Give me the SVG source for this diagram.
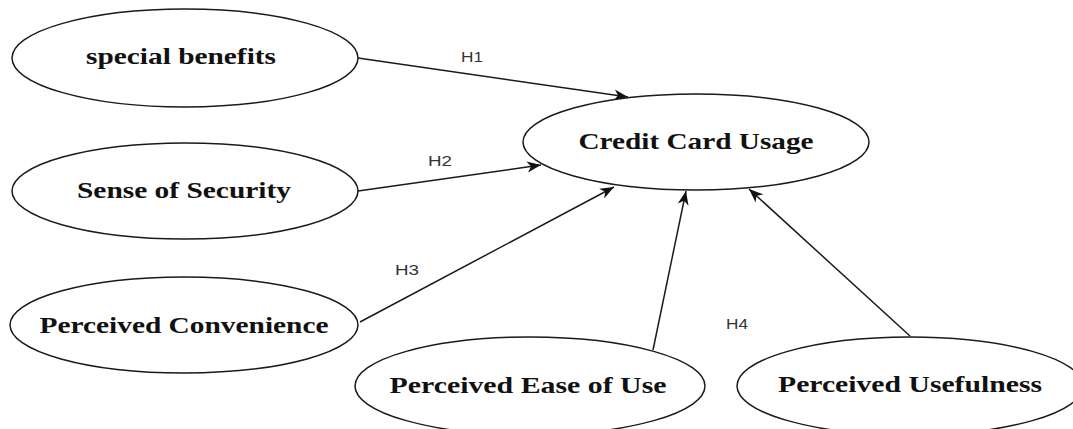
<svg xmlns="http://www.w3.org/2000/svg" width="1073" height="429" viewBox="0 0 1073 429">
  <style>
    .node ellipse { fill: #ffffff; stroke: #1a1a1a; stroke-width: 1.5; }
    .node text { font-family: "Liberation Serif", "Times New Roman", serif; font-weight: bold; font-size: 23px; fill: #111111; text-anchor: middle; }
    .edges line { stroke: #1a1a1a; stroke-width: 1.5; marker-end: url(#arrow); }
    .label { font-family: "Liberation Sans", Arial, sans-serif; font-size: 14.5px; fill: #333333; text-anchor: middle; }
  </style>
  <defs>
    <marker id="arrow" markerUnits="userSpaceOnUse" markerWidth="15" markerHeight="12" viewBox="0 0 15 12" refX="14" refY="6" orient="auto">
      <path d="M0,0.5 L14,6 L0,11.5 L4,6 Z" fill="#111111"/>
    </marker>
  </defs>
  <rect width="1073" height="429" fill="#ffffff"/>

  <!-- connectors -->
  <g id="edges" class="edges">
    <line x1="358" y1="58" x2="628" y2="97"/>
    <line x1="358" y1="191" x2="541" y2="165"/>
    <line x1="360" y1="322" x2="614" y2="187"/>
    <line x1="653" y1="350" x2="686" y2="191"/>
    <line x1="910" y1="336" x2="749" y2="189"/>
  </g>

  <!-- hypothesis labels -->
  <g id="labels">
    <text class="label" x="472" y="62" textLength="22" lengthAdjust="spacingAndGlyphs">H1</text>
    <text class="label" x="440" y="166" textLength="24" lengthAdjust="spacingAndGlyphs">H2</text>
    <text class="label" x="407" y="275" textLength="24" lengthAdjust="spacingAndGlyphs">H3</text>
    <text class="label" x="737" y="329" textLength="22" lengthAdjust="spacingAndGlyphs">H4</text>
  </g>

  <g id="special-benefits" class="node">
    <ellipse cx="185" cy="58" rx="173" ry="49"/>
    <text x="181" y="64" textLength="190" lengthAdjust="spacingAndGlyphs">special benefits</text>
  </g>

  <g id="sense-of-security" class="node">
    <ellipse cx="185" cy="191" rx="173" ry="48"/>
    <text x="184" y="198" textLength="214" lengthAdjust="spacingAndGlyphs">Sense of Security</text>
  </g>

  <g id="perceived-convenience" class="node">
    <ellipse cx="184" cy="325" rx="174" ry="48"/>
    <text x="184" y="333" textLength="289" lengthAdjust="spacingAndGlyphs">Perceived Convenience</text>
  </g>

  <g id="credit-card-usage" class="node">
    <ellipse cx="696" cy="142" rx="173" ry="48"/>
    <text x="696" y="149" textLength="235" lengthAdjust="spacingAndGlyphs">Credit Card Usage</text>
  </g>

  <g id="perceived-ease-of-use" class="node">
    <ellipse cx="530" cy="386" rx="175" ry="49"/>
    <text x="528" y="393" textLength="277" lengthAdjust="spacingAndGlyphs">Perceived Ease of Use</text>
  </g>

  <g id="perceived-usefulness" class="node">
    <ellipse cx="910" cy="386" rx="173" ry="49"/>
    <text x="910" y="392" textLength="264" lengthAdjust="spacingAndGlyphs">Perceived Usefulness</text>
  </g>
</svg>
